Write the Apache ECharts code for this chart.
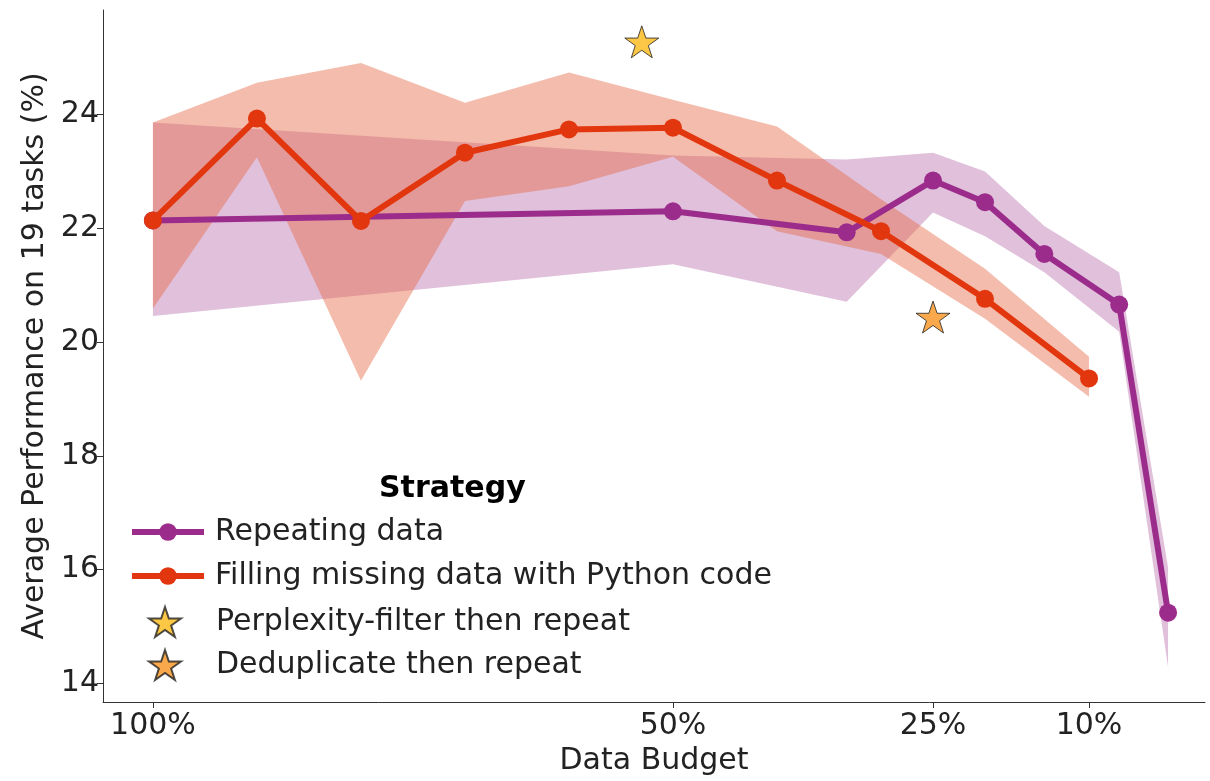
<!DOCTYPE html>
<html>
<head>
<meta charset="utf-8">
<script src="https://cdn.jsdelivr.net/npm/echarts@6/dist/echarts.min.js"></script>
<style>
  html, body { margin: 0; padding: 0; background: #fff; }
  #chart { width: 1210px; height: 781px; }
</style>
</head>
<body>
<div id="chart"></div>
<script>
// data budget (%)
const repeatX = [100, 50, 33.3, 25, 20, 14.3, 7.1, 2.4];
const repeatY = [22.14, 22.3, 21.93, 22.84, 22.46, 21.55, 20.66, 15.24];
const repeatHi = [23.86, 23.28, 23.21, 23.33, 23.0, 22.04, 21.23, 16.03];
const repeatLo = [20.46, 21.37, 20.71, 22.28, 21.86, 21.23, 20.18, 14.28];

const fillX = [100, 90, 80, 70, 60, 50, 40, 30, 20, 10];
const fillY = [22.14, 23.93, 22.13, 23.33, 23.74, 23.77, 22.84, 21.95, 20.76, 19.36];
const fillHi = [23.86, 24.56, 24.91, 24.21, 24.74, 24.26, 23.79, 22.51, 21.29, 19.74];
const fillLo = [20.59, 23.25, 19.32, 22.48, 22.74, 23.26, 21.95, 21.55, 20.41, 19.04];

const perplexityPt = [53, 25.28];
const dedupPt = [25, 20.44];

const xTicks = [100, 50, 25, 10];
const yTicks = [14, 16, 18, 20, 22, 24];

const PURPLE = "#9c2c8c";
const RED = "#e2360e";
const STAR = "path://M50,0 L61.8,35.1 L98.9,35.1 L68.8,56.7 L80.2,91.9 L50,70.2 L19.8,91.9 L31.2,56.7 L1.1,35.1 L38.2,35.1 Z";
const FONT = "DejaVu Sans";
const FS = 30;

const zip = (xs, ys) => xs.map((x, i) => [x, ys[i]]);

// shaded range between lo and hi, drawn as one polygon
function band(xs, lo, hi, color, opacity) {
  return {
    type: "custom",
    silent: true,
    z: 1,
    data: xs.map((x, i) => [x, lo[i], hi[i]]),
    encode: { x: 0, y: [1, 2] },
    renderItem: function(params, api) {
      if (params.dataIndexInside !== 0) return null;
      const n = params.dataInsideLength;
      const top = [];
      const bottom = [];
      for (let i = 0; i < n; i++) {
        top.push(api.coord([api.value(0, i), api.value(2, i)]));
        bottom.push(api.coord([api.value(0, i), api.value(1, i)]));
      }
      return {
        type: "polygon",
        shape: { points: top.concat(bottom.reverse()) },
        style: { fill: color, opacity: opacity }
      };
    }
  };
}

const chart = echarts.init(document.getElementById("chart"));

const option = {
  backgroundColor: "#fff",
  animation: false,
  textStyle: { fontFamily: FONT },
  grid: { left: 103, right: 5, top: 10, bottom: 76 },
  title: {
    text: "Strategy",
    left: 374,
    top: 469,
    textStyle: { fontFamily: FONT, fontSize: FS, fontWeight: "bold", color: "#000" }
  },
  legend: [
    {
      orient: "vertical",
      left: 124,
      top: 510,
      itemWidth: 72,
      itemHeight: 22,
      itemGap: 10,
      lineStyle: { width: 6 },
      textStyle: { fontFamily: FONT, fontSize: FS, lineHeight: 34, color: "#222", padding: [0, 0, 0, 6] },
      data: ["Repeating data", "Filling missing data with Python code"]
    },
    {
      orient: "vertical",
      left: 143,
      top: 600,
      itemWidth: 32,
      itemHeight: 32,
      itemGap: 9,
      textStyle: { fontFamily: FONT, fontSize: FS, lineHeight: 34, color: "#222", padding: [0, 0, 0, 30] },
      data: ["Perplexity-filter then repeat", "Deduplicate then repeat"]
    }
  ],
  xAxis: {
    type: "value",
    inverse: true,
    min: -1.15,
    max: 104.8,
    name: "Data Budget",
    nameLocation: "middle",
    nameGap: 44,
    nameTextStyle: { fontFamily: FONT, fontSize: FS, color: "#222" },
    splitLine: { show: false },
    axisLine: { onZero: false, lineStyle: { color: "#333", width: 1 } },
    axisTick: { customValues: xTicks, length: 6, lineStyle: { color: "#333" } },
    axisLabel: {
      customValues: xTicks,
      formatter: v => v + "%",
      fontFamily: FONT,
      fontSize: FS,
      color: "#222",
      margin: 9
    }
  },
  yAxis: {
    type: "value",
    min: 13.67,
    max: 25.84,
    name: "Average Performance on 19 tasks (%)",
    nameLocation: "middle",
    nameGap: 47,
    nameTextStyle: { fontFamily: FONT, fontSize: FS, color: "#222" },
    splitLine: { show: false },
    axisLine: { show: true, onZero: false, lineStyle: { color: "#333", width: 1 } },
    axisTick: { show: true, customValues: yTicks, length: 6, lineStyle: { color: "#333" } },
    axisLabel: {
      customValues: yTicks,
      fontFamily: FONT,
      fontSize: FS,
      color: "#222",
      margin: 4
    }
  },
  series: [
    band(repeatX, repeatLo, repeatHi, "#a8509a", 0.36),
    band(fillX, fillLo, fillHi, "#e66a48", 0.45),
    {
      name: "Repeating data",
      type: "line",
      z: 2,
      data: zip(repeatX, repeatY),
      symbol: "circle",
      symbolSize: 18,
      itemStyle: { color: PURPLE },
      lineStyle: { color: PURPLE, width: 6 }
    },
    {
      name: "Filling missing data with Python code",
      type: "line",
      z: 3,
      data: zip(fillX, fillY),
      symbol: "circle",
      symbolSize: 18,
      itemStyle: { color: RED },
      lineStyle: { color: RED, width: 6 }
    },
    {
      name: "Perplexity-filter then repeat",
      type: "scatter",
      z: 4,
      data: [perplexityPt],
      symbol: STAR,
      symbolSize: 34,
      symbolKeepAspect: true,
      itemStyle: { color: "#fbb917", borderColor: "#222", borderWidth: 1 }
    },
    {
      name: "Deduplicate then repeat",
      type: "scatter",
      z: 4,
      data: [dedupPt],
      symbol: STAR,
      symbolSize: 34,
      symbolKeepAspect: true,
      itemStyle: { color: "#f7931e", borderColor: "#222", borderWidth: 1 }
    }
  ]
};

chart.setOption(option);
</script>
</body>
</html>
